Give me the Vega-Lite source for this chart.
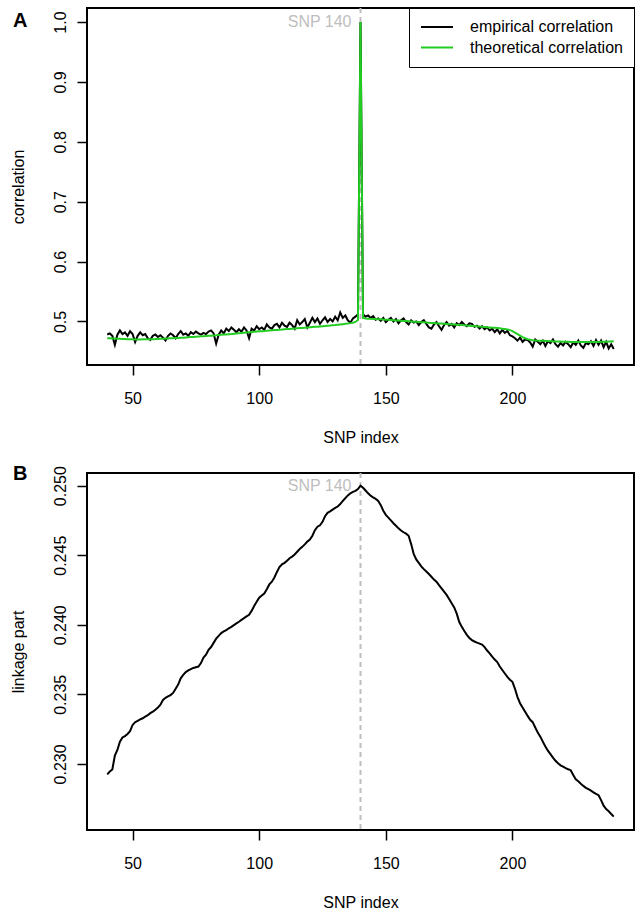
{
  "$schema": "https://vega.github.io/schema/vega-lite/v6.json",
  "padding": {"left": 8, "top": 6, "right": 4, "bottom": 0},
  "background": "white",
  "config": {
    "font": "Liberation Sans",
    "view": {"stroke": "black", "strokeWidth": 2},
    "axis": {"grid": false, "domain": false, "tickColor": "black", "tickWidth": 1.5, "tickSize": 10, "labelFont": "Liberation Sans", "labelFontSize": 16, "labelColor": "black", "titleFont": "Liberation Sans", "titleFontSize": 16, "titleFontWeight": "normal", "titleColor": "black", "labelFlush": false, "labelOverlap": false},
    "axisLeft": {"labelAngle": 270, "labelAlign": "center", "labelBaseline": "alphabetic", "labelPadding": 12, "titlePadding": 26, "titleAngle": 270, "titleBaseline": "bottom"},
    "axisBottom": {"labelPadding": 15, "titlePadding": 23, "labelBaseline": "top"}
  },
  "spacing": 17,
  "datasets": {
    "marker": [{"snp": 140, "label": "SNP 140", "corr": 1.0, "link": 0.25}],
    "a": [
      {"snp":40,"emp":0.4783,"theo":0.4720},{"snp":41,"emp":0.4800,"theo":0.4718},{"snp":42,"emp":0.4760,"theo":0.4716},{"snp":43,"emp":0.4610,"theo":0.4714},{"snp":44,"emp":0.4780,"theo":0.4712},
      {"snp":45,"emp":0.4850,"theo":0.4710},{"snp":46,"emp":0.4790,"theo":0.4708},{"snp":47,"emp":0.4817,"theo":0.4706},{"snp":48,"emp":0.4760,"theo":0.4704},{"snp":49,"emp":0.4838,"theo":0.4702},
      {"snp":50,"emp":0.4790,"theo":0.4701},{"snp":51,"emp":0.4655,"theo":0.4700},{"snp":52,"emp":0.4760,"theo":0.4700},{"snp":53,"emp":0.4817,"theo":0.4700},{"snp":54,"emp":0.4770,"theo":0.4701},
      {"snp":55,"emp":0.4790,"theo":0.4702},{"snp":56,"emp":0.4720,"theo":0.4703},{"snp":57,"emp":0.4694,"theo":0.4704},{"snp":58,"emp":0.4760,"theo":0.4705},{"snp":59,"emp":0.4783,"theo":0.4706},
      {"snp":60,"emp":0.4740,"theo":0.4708},{"snp":61,"emp":0.4770,"theo":0.4710},{"snp":62,"emp":0.4730,"theo":0.4712},{"snp":63,"emp":0.4683,"theo":0.4714},{"snp":64,"emp":0.4760,"theo":0.4716},
      {"snp":65,"emp":0.4800,"theo":0.4718},{"snp":66,"emp":0.4770,"theo":0.4720},{"snp":67,"emp":0.4720,"theo":0.4722},{"snp":68,"emp":0.4790,"theo":0.4724},{"snp":69,"emp":0.4840,"theo":0.4727},
      {"snp":70,"emp":0.4780,"theo":0.4730},{"snp":71,"emp":0.4800,"theo":0.4733},{"snp":72,"emp":0.4760,"theo":0.4736},{"snp":73,"emp":0.4820,"theo":0.4739},{"snp":74,"emp":0.4790,"theo":0.4742},
      {"snp":75,"emp":0.4830,"theo":0.4745},{"snp":76,"emp":0.4800,"theo":0.4748},{"snp":77,"emp":0.4780,"theo":0.4751},{"snp":78,"emp":0.4810,"theo":0.4754},{"snp":79,"emp":0.4790,"theo":0.4757},
      {"snp":80,"emp":0.4830,"theo":0.4760},{"snp":81,"emp":0.4850,"theo":0.4763},{"snp":82,"emp":0.4800,"theo":0.4767},{"snp":83,"emp":0.4630,"theo":0.4770},{"snp":84,"emp":0.4780,"theo":0.4774},
      {"snp":85,"emp":0.4850,"theo":0.4777},{"snp":86,"emp":0.4800,"theo":0.4781},{"snp":87,"emp":0.4880,"theo":0.4784},{"snp":88,"emp":0.4840,"theo":0.4788},{"snp":89,"emp":0.4900,"theo":0.4791},
      {"snp":90,"emp":0.4860,"theo":0.4795},{"snp":91,"emp":0.4820,"theo":0.4799},{"snp":92,"emp":0.4870,"theo":0.4803},{"snp":93,"emp":0.4830,"theo":0.4807},{"snp":94,"emp":0.4900,"theo":0.4811},
      {"snp":95,"emp":0.4850,"theo":0.4815},{"snp":96,"emp":0.4720,"theo":0.4819},{"snp":97,"emp":0.4880,"theo":0.4823},{"snp":98,"emp":0.4850,"theo":0.4827},{"snp":99,"emp":0.4920,"theo":0.4831},
      {"snp":100,"emp":0.4870,"theo":0.4835},{"snp":101,"emp":0.4900,"theo":0.4838},{"snp":102,"emp":0.4860,"theo":0.4842},{"snp":103,"emp":0.4950,"theo":0.4845},{"snp":104,"emp":0.4900,"theo":0.4849},
      {"snp":105,"emp":0.4880,"theo":0.4852},{"snp":106,"emp":0.4940,"theo":0.4856},{"snp":107,"emp":0.4960,"theo":0.4859},{"snp":108,"emp":0.4900,"theo":0.4863},{"snp":109,"emp":0.4980,"theo":0.4866},
      {"snp":110,"emp":0.4930,"theo":0.4870},{"snp":111,"emp":0.4910,"theo":0.4873},{"snp":112,"emp":0.4980,"theo":0.4876},{"snp":113,"emp":0.4940,"theo":0.4880},{"snp":114,"emp":0.4880,"theo":0.4883},
      {"snp":115,"emp":0.5020,"theo":0.4886},{"snp":116,"emp":0.4950,"theo":0.4889},{"snp":117,"emp":0.4990,"theo":0.4892},{"snp":118,"emp":0.5040,"theo":0.4896},{"snp":119,"emp":0.4900,"theo":0.4899},
      {"snp":120,"emp":0.4980,"theo":0.4902},{"snp":121,"emp":0.5060,"theo":0.4906},{"snp":122,"emp":0.4990,"theo":0.4910},{"snp":123,"emp":0.5050,"theo":0.4913},{"snp":124,"emp":0.4960,"theo":0.4917},
      {"snp":125,"emp":0.5020,"theo":0.4921},{"snp":126,"emp":0.5070,"theo":0.4925},{"snp":127,"emp":0.4990,"theo":0.4929},{"snp":128,"emp":0.5040,"theo":0.4932},{"snp":129,"emp":0.5000,"theo":0.4936},
      {"snp":130,"emp":0.5080,"theo":0.4940},{"snp":131,"emp":0.5020,"theo":0.4945},{"snp":132,"emp":0.5150,"theo":0.4950},{"snp":133,"emp":0.5060,"theo":0.4955},{"snp":134,"emp":0.5100,"theo":0.4960},
      {"snp":135,"emp":0.5020,"theo":0.4965},{"snp":136,"emp":0.4980,"theo":0.4972},{"snp":137,"emp":0.5050,"theo":0.4980},{"snp":138,"emp":0.5080,"theo":0.4992},{"snp":139,"emp":0.5120,"theo":0.5025},
      {"snp":140,"emp":1.0000,"theo":1.0000},{"snp":141,"emp":0.5120,"theo":0.5058},{"snp":142,"emp":0.5080,"theo":0.5050},{"snp":143,"emp":0.5100,"theo":0.5047},{"snp":144,"emp":0.5060,"theo":0.5044},
      {"snp":145,"emp":0.5090,"theo":0.5042},{"snp":146,"emp":0.5030,"theo":0.5040},{"snp":147,"emp":0.5050,"theo":0.5037},{"snp":148,"emp":0.5010,"theo":0.5035},{"snp":149,"emp":0.5060,"theo":0.5032},
      {"snp":150,"emp":0.4990,"theo":0.5030},{"snp":151,"emp":0.5030,"theo":0.5027},{"snp":152,"emp":0.5060,"theo":0.5024},{"snp":153,"emp":0.5000,"theo":0.5021},{"snp":154,"emp":0.5040,"theo":0.5018},
      {"snp":155,"emp":0.4970,"theo":0.5015},{"snp":156,"emp":0.5020,"theo":0.5012},{"snp":157,"emp":0.5050,"theo":0.5009},{"snp":158,"emp":0.4990,"theo":0.5006},{"snp":159,"emp":0.4950,"theo":0.5003},
      {"snp":160,"emp":0.5020,"theo":0.5000},{"snp":161,"emp":0.4980,"theo":0.4997},{"snp":162,"emp":0.5000,"theo":0.4994},{"snp":163,"emp":0.4940,"theo":0.4991},{"snp":164,"emp":0.4990,"theo":0.4988},
      {"snp":165,"emp":0.5020,"theo":0.4985},{"snp":166,"emp":0.4960,"theo":0.4982},{"snp":167,"emp":0.4900,"theo":0.4979},{"snp":168,"emp":0.4880,"theo":0.4976},{"snp":169,"emp":0.4950,"theo":0.4973},
      {"snp":170,"emp":0.4990,"theo":0.4970},{"snp":171,"emp":0.4920,"theo":0.4967},{"snp":172,"emp":0.4860,"theo":0.4964},{"snp":173,"emp":0.4940,"theo":0.4961},{"snp":174,"emp":0.4990,"theo":0.4958},
      {"snp":175,"emp":0.4930,"theo":0.4955},{"snp":176,"emp":0.4960,"theo":0.4952},{"snp":177,"emp":0.4900,"theo":0.4949},{"snp":178,"emp":0.4970,"theo":0.4946},{"snp":179,"emp":0.4940,"theo":0.4943},
      {"snp":180,"emp":0.4990,"theo":0.4940},{"snp":181,"emp":0.4950,"theo":0.4937},{"snp":182,"emp":0.4920,"theo":0.4933},{"snp":183,"emp":0.4970,"theo":0.4930},{"snp":184,"emp":0.4960,"theo":0.4926},
      {"snp":185,"emp":0.4910,"theo":0.4923},{"snp":186,"emp":0.4930,"theo":0.4919},{"snp":187,"emp":0.4880,"theo":0.4916},{"snp":188,"emp":0.4920,"theo":0.4912},{"snp":189,"emp":0.4870,"theo":0.4909},
      {"snp":190,"emp":0.4900,"theo":0.4905},{"snp":191,"emp":0.4850,"theo":0.4901},{"snp":192,"emp":0.4880,"theo":0.4897},{"snp":193,"emp":0.4820,"theo":0.4893},{"snp":194,"emp":0.4870,"theo":0.4889},
      {"snp":195,"emp":0.4800,"theo":0.4885},{"snp":196,"emp":0.4860,"theo":0.4879},{"snp":197,"emp":0.4810,"theo":0.4874},{"snp":198,"emp":0.4840,"theo":0.4868},{"snp":199,"emp":0.4770,"theo":0.4855},
      {"snp":200,"emp":0.4750,"theo":0.4840},{"snp":201,"emp":0.4720,"theo":0.4815},{"snp":202,"emp":0.4680,"theo":0.4790},{"snp":203,"emp":0.4730,"theo":0.4765},{"snp":204,"emp":0.4660,"theo":0.4740},
      {"snp":205,"emp":0.4700,"theo":0.4720},{"snp":206,"emp":0.4690,"theo":0.4705},{"snp":207,"emp":0.4650,"theo":0.4695},{"snp":208,"emp":0.4580,"theo":0.4688},{"snp":209,"emp":0.4700,"theo":0.4684},
      {"snp":210,"emp":0.4660,"theo":0.4680},{"snp":211,"emp":0.4620,"theo":0.4678},{"snp":212,"emp":0.4680,"theo":0.4676},{"snp":213,"emp":0.4590,"theo":0.4674},{"snp":214,"emp":0.4670,"theo":0.4672},
      {"snp":215,"emp":0.4640,"theo":0.4670},{"snp":216,"emp":0.4700,"theo":0.4668},{"snp":217,"emp":0.4620,"theo":0.4667},{"snp":218,"emp":0.4580,"theo":0.4665},{"snp":219,"emp":0.4640,"theo":0.4664},
      {"snp":220,"emp":0.4600,"theo":0.4662},{"snp":221,"emp":0.4660,"theo":0.4661},{"snp":222,"emp":0.4620,"theo":0.4660},{"snp":223,"emp":0.4570,"theo":0.4659},{"snp":224,"emp":0.4650,"theo":0.4658},
      {"snp":225,"emp":0.4610,"theo":0.4658},{"snp":226,"emp":0.4680,"theo":0.4657},{"snp":227,"emp":0.4600,"theo":0.4657},{"snp":228,"emp":0.4560,"theo":0.4656},{"snp":229,"emp":0.4640,"theo":0.4656},
      {"snp":230,"emp":0.4620,"theo":0.4656},{"snp":231,"emp":0.4670,"theo":0.4656},{"snp":232,"emp":0.4590,"theo":0.4657},{"snp":233,"emp":0.4690,"theo":0.4657},{"snp":234,"emp":0.4610,"theo":0.4658},
      {"snp":235,"emp":0.4680,"theo":0.4660},{"snp":236,"emp":0.4570,"theo":0.4661},{"snp":237,"emp":0.4660,"theo":0.4663},{"snp":238,"emp":0.4550,"theo":0.4665},{"snp":239,"emp":0.4620,"theo":0.4666},
      {"snp":240,"emp":0.4540,"theo":0.4668}
    ],
    "b": [
      {"snp":40,"link":0.22925},{"snp":41,"link":0.22945},{"snp":42,"link":0.22960},{"snp":43,"link":0.23060},{"snp":44,"link":0.23100},
      {"snp":45,"link":0.23160},{"snp":46,"link":0.23190},{"snp":47,"link":0.23200},{"snp":48,"link":0.23215},{"snp":49,"link":0.23235},
      {"snp":50,"link":0.23280},{"snp":51,"link":0.23300},{"snp":52,"link":0.23310},{"snp":53,"link":0.23320},{"snp":54,"link":0.23328},
      {"snp":55,"link":0.23340},{"snp":56,"link":0.23350},{"snp":57,"link":0.23365},{"snp":58,"link":0.23375},{"snp":59,"link":0.23390},
      {"snp":60,"link":0.23405},{"snp":61,"link":0.23425},{"snp":62,"link":0.23460},{"snp":63,"link":0.23475},{"snp":64,"link":0.23485},
      {"snp":65,"link":0.23495},{"snp":66,"link":0.23510},{"snp":67,"link":0.23540},{"snp":68,"link":0.23570},{"snp":69,"link":0.23615},
      {"snp":70,"link":0.23640},{"snp":71,"link":0.23660},{"snp":72,"link":0.23672},{"snp":73,"link":0.23682},{"snp":74,"link":0.23690},
      {"snp":75,"link":0.23695},{"snp":76,"link":0.23700},{"snp":77,"link":0.23725},{"snp":78,"link":0.23765},{"snp":79,"link":0.23785},
      {"snp":80,"link":0.23820},{"snp":81,"link":0.23840},{"snp":82,"link":0.23870},{"snp":83,"link":0.23900},{"snp":84,"link":0.23920},
      {"snp":85,"link":0.23940},{"snp":86,"link":0.23952},{"snp":87,"link":0.23962},{"snp":88,"link":0.23975},{"snp":89,"link":0.23985},
      {"snp":90,"link":0.23998},{"snp":91,"link":0.24010},{"snp":92,"link":0.24022},{"snp":93,"link":0.24035},{"snp":94,"link":0.24048},
      {"snp":95,"link":0.24060},{"snp":96,"link":0.24072},{"snp":97,"link":0.24100},{"snp":98,"link":0.24135},{"snp":99,"link":0.24165},
      {"snp":100,"link":0.24195},{"snp":101,"link":0.24210},{"snp":102,"link":0.24225},{"snp":103,"link":0.24255},{"snp":104,"link":0.24290},
      {"snp":105,"link":0.24310},{"snp":106,"link":0.24340},{"snp":107,"link":0.24380},{"snp":108,"link":0.24415},{"snp":109,"link":0.24435},
      {"snp":110,"link":0.24445},{"snp":111,"link":0.24460},{"snp":112,"link":0.24478},{"snp":113,"link":0.24490},{"snp":114,"link":0.24505},
      {"snp":115,"link":0.24525},{"snp":116,"link":0.24545},{"snp":117,"link":0.24560},{"snp":118,"link":0.24578},{"snp":119,"link":0.24598},
      {"snp":120,"link":0.24612},{"snp":121,"link":0.24640},{"snp":122,"link":0.24680},{"snp":123,"link":0.24705},{"snp":124,"link":0.24715},
      {"snp":125,"link":0.24740},{"snp":126,"link":0.24780},{"snp":127,"link":0.24805},{"snp":128,"link":0.24815},{"snp":129,"link":0.24828},
      {"snp":130,"link":0.24840},{"snp":131,"link":0.24850},{"snp":132,"link":0.24868},{"snp":133,"link":0.24890},{"snp":134,"link":0.24910},
      {"snp":135,"link":0.24930},{"snp":136,"link":0.24945},{"snp":137,"link":0.24955},{"snp":138,"link":0.24963},{"snp":139,"link":0.24975},
      {"snp":140,"link":0.25000},{"snp":141,"link":0.24985},{"snp":142,"link":0.24965},{"snp":143,"link":0.24945},{"snp":144,"link":0.24928},
      {"snp":145,"link":0.24915},{"snp":146,"link":0.24905},{"snp":147,"link":0.24890},{"snp":148,"link":0.24860},{"snp":149,"link":0.24820},
      {"snp":150,"link":0.24790},{"snp":151,"link":0.24770},{"snp":152,"link":0.24750},{"snp":153,"link":0.24730},{"snp":154,"link":0.24712},
      {"snp":155,"link":0.24693},{"snp":156,"link":0.24678},{"snp":157,"link":0.24665},{"snp":158,"link":0.24655},{"snp":159,"link":0.24640},
      {"snp":160,"link":0.24580},{"snp":161,"link":0.24510},{"snp":162,"link":0.24470},{"snp":163,"link":0.24445},{"snp":164,"link":0.24420},
      {"snp":165,"link":0.24400},{"snp":166,"link":0.24383},{"snp":167,"link":0.24365},{"snp":168,"link":0.24345},{"snp":169,"link":0.24325},
      {"snp":170,"link":0.24310},{"snp":171,"link":0.24285},{"snp":172,"link":0.24262},{"snp":173,"link":0.24238},{"snp":174,"link":0.24215},
      {"snp":175,"link":0.24185},{"snp":176,"link":0.24155},{"snp":177,"link":0.24125},{"snp":178,"link":0.24080},{"snp":179,"link":0.24020},
      {"snp":180,"link":0.23985},{"snp":181,"link":0.23955},{"snp":182,"link":0.23928},{"snp":183,"link":0.23905},{"snp":184,"link":0.23890},
      {"snp":185,"link":0.23880},{"snp":186,"link":0.23872},{"snp":187,"link":0.23865},{"snp":188,"link":0.23858},{"snp":189,"link":0.23840},
      {"snp":190,"link":0.23815},{"snp":191,"link":0.23795},{"snp":192,"link":0.23772},{"snp":193,"link":0.23750},{"snp":194,"link":0.23732},
      {"snp":195,"link":0.23700},{"snp":196,"link":0.23675},{"snp":197,"link":0.23650},{"snp":198,"link":0.23625},{"snp":199,"link":0.23605},
      {"snp":200,"link":0.23590},{"snp":201,"link":0.23540},{"snp":202,"link":0.23480},{"snp":203,"link":0.23436},{"snp":204,"link":0.23405},
      {"snp":205,"link":0.23375},{"snp":206,"link":0.23345},{"snp":207,"link":0.23317},{"snp":208,"link":0.23300},{"snp":209,"link":0.23262},
      {"snp":210,"link":0.23225},{"snp":211,"link":0.23196},{"snp":212,"link":0.23160},{"snp":213,"link":0.23125},{"snp":214,"link":0.23095},
      {"snp":215,"link":0.23070},{"snp":216,"link":0.23045},{"snp":217,"link":0.23022},{"snp":218,"link":0.23005},{"snp":219,"link":0.22990},
      {"snp":220,"link":0.22980},{"snp":221,"link":0.22970},{"snp":222,"link":0.22962},{"snp":223,"link":0.22955},{"snp":224,"link":0.22920},
      {"snp":225,"link":0.22890},{"snp":226,"link":0.22875},{"snp":227,"link":0.22858},{"snp":228,"link":0.22842},{"snp":229,"link":0.22828},
      {"snp":230,"link":0.22818},{"snp":231,"link":0.22808},{"snp":232,"link":0.22795},{"snp":233,"link":0.22785},{"snp":234,"link":0.22775},
      {"snp":235,"link":0.22740},{"snp":236,"link":0.22700},{"snp":237,"link":0.22675},{"snp":238,"link":0.22660},{"snp":239,"link":0.22640},
      {"snp":240,"link":0.22621}
    ]
  },
  "vconcat": [
    {
      "width": 547,
      "height": 357,
      "layer": [
        {
          "data": {"name": "marker"},
          "mark": {"type": "rule", "strokeDash": [5, 4], "color": "#bebebe", "strokeWidth": 2},
          "encoding": {"x": {"field": "snp", "type": "quantitative"}}
        },
        {
          "data": {"name": "a"},
          "mark": {"type": "line", "strokeWidth": 2},
          "encoding": {
            "x": {"field": "snp", "type": "quantitative", "scale": {"domain": [32, 248], "nice": false, "zero": false}, "axis": {"title": "SNP index", "values": [50, 100, 150, 200]}},
            "y": {"field": "emp", "type": "quantitative", "scale": {"domain": [0.4273, 1.0234], "nice": false, "zero": false}, "axis": {"title": "correlation", "values": [0.5, 0.6, 0.7, 0.8, 0.9, 1.0], "format": ".1f"}},
            "color": {
              "datum": "empirical correlation",
              "scale": {"domain": ["empirical correlation", "theoretical correlation"], "range": ["#000000", "#22cc22"]},
              "legend": {"title": null, "orient": "top-right", "offset": 0, "padding": 11, "strokeColor": "black", "fillColor": "white", "symbolType": "stroke", "symbolSize": 1024, "symbolStrokeWidth": 2, "labelFontSize": 16, "labelFont": "Liberation Sans", "labelColor": "black", "labelOffset": 16, "rowPadding": 4.5, "clipHeight": 16}
            }
          }
        },
        {
          "data": {"name": "a"},
          "mark": {"type": "line", "strokeWidth": 2},
          "encoding": {
            "x": {"field": "snp", "type": "quantitative"},
            "y": {"field": "theo", "type": "quantitative", "axis": {"title": "correlation", "values": [0.5, 0.6, 0.7, 0.8, 0.9, 1.0], "format": ".1f"}},
            "color": {"datum": "theoretical correlation"}
          }
        },
        {
          "data": {"name": "marker"},
          "mark": {"type": "text", "align": "right", "baseline": "middle", "dx": -9, "fontSize": 16, "font": "Liberation Sans", "color": "#bebebe"},
          "encoding": {"x": {"field": "snp", "type": "quantitative"}, "y": {"field": "corr", "type": "quantitative"}, "text": {"field": "label"}}
        },
        {
          "data": {"name": "marker"},
          "mark": {"type": "text", "text": "A", "align": "left", "baseline": "alphabetic", "fontSize": 20, "fontWeight": "bold", "font": "Liberation Sans", "color": "black", "clip": false},
          "encoding": {"x": {"datum": 2.8, "type": "quantitative"}, "y": {"datum": 0.9917, "type": "quantitative"}}
        }
      ]
    },
    {
      "width": 547,
      "height": 357,
      "layer": [
        {
          "data": {"name": "marker"},
          "mark": {"type": "rule", "strokeDash": [5, 4], "color": "#bebebe", "strokeWidth": 2},
          "encoding": {"x": {"field": "snp", "type": "quantitative"}}
        },
        {
          "data": {"name": "b"},
          "mark": {"type": "line", "strokeWidth": 2, "color": "black"},
          "encoding": {
            "x": {"field": "snp", "type": "quantitative", "scale": {"domain": [32, 248], "nice": false, "zero": false}, "axis": {"title": "SNP index", "values": [50, 100, 150, 200]}},
            "y": {"field": "link", "type": "quantitative", "scale": {"domain": [0.22525, 0.25091], "nice": false, "zero": false}, "axis": {"title": "linkage part", "values": [0.23, 0.235, 0.24, 0.245, 0.25], "format": ".3f"}}
          }
        },
        {
          "data": {"name": "marker"},
          "mark": {"type": "text", "align": "right", "baseline": "middle", "dx": -9, "fontSize": 16, "font": "Liberation Sans", "color": "#bebebe"},
          "encoding": {"x": {"field": "snp", "type": "quantitative"}, "y": {"field": "link", "type": "quantitative"}, "text": {"field": "label"}}
        },
        {
          "data": {"name": "marker"},
          "mark": {"type": "text", "text": "B", "align": "left", "baseline": "alphabetic", "fontSize": 20, "fontWeight": "bold", "font": "Liberation Sans", "color": "black", "clip": false},
          "encoding": {"x": {"datum": 2.8, "type": "quantitative"}, "y": {"datum": 0.25039, "type": "quantitative"}}
        }
      ]
    }
  ]
}
